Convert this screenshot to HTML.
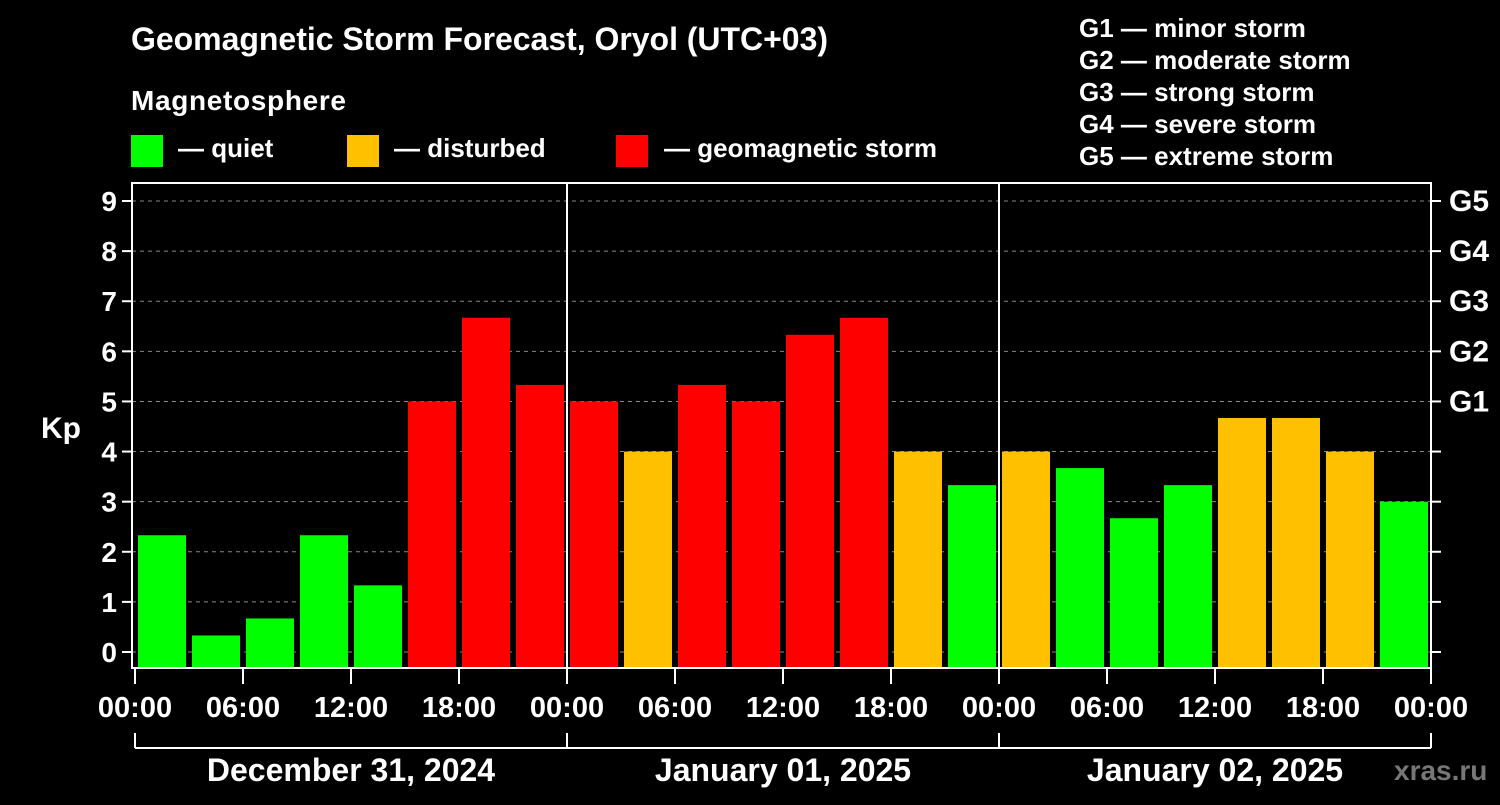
<!DOCTYPE html>
<html><head><meta charset="utf-8"><style>
body{margin:0;background:#000;width:1500px;height:800px;overflow:hidden}
svg text{font-family:"Liberation Sans",sans-serif;font-weight:bold;fill:#fff}
</style></head><body>
<svg id="c" width="1500" height="800">
<rect width="1500" height="800" fill="#000"/>
<text x="131" y="50" font-size="32" textLength="697">Geomagnetic Storm Forecast, Oryol (UTC+03)</text>
<text x="131" y="110" font-size="28" textLength="215">Magnetosphere</text>
<rect x="131" y="135" width="32" height="32" fill="#00ff00"/>
<text x="178" y="157" font-size="26">— quiet</text>
<rect x="347" y="135" width="32" height="32" fill="#ffc000"/>
<text x="394" y="157" font-size="26">— disturbed</text>
<rect x="616" y="135" width="32" height="32" fill="#ff0000"/>
<text x="664" y="157" font-size="26">— geomagnetic storm</text>
<g font-size="26">
<text x="1079" y="37">G1 — minor storm</text>
<text x="1079" y="69">G2 — moderate storm</text>
<text x="1079" y="101">G3 — strong storm</text>
<text x="1079" y="133">G4 — severe storm</text>
<text x="1079" y="165">G5 — extreme storm</text>
</g>
<text x="41" y="438" font-size="30">Kp</text>
<text x="1394" y="780" font-size="28" style="fill:#777">xras.ru</text>
<g id="plot"></g>
</svg>
<script>
const kpValues=[2.33,0.33,0.67,2.33,1.33,5,6.67,5.33,5,4,5.33,5,6.33,6.67,4,3.33,4,3.67,2.67,3.33,4.67,4.67,4,3];
const kpTicks=[0,1,2,3,4,5,6,7,8,9];
const gLabels=["G1","G2","G3","G4","G5"];
const timeLabels=["00:00","06:00","12:00","18:00","00:00","06:00","12:00","18:00","00:00","06:00","12:00","18:00","00:00"];
const dayLabels=["December 31, 2024","January 01, 2025","January 02, 2025"];
const NS="http://www.w3.org/2000/svg",g=document.getElementById('plot');
const X0=135,X1=1431,Y0=652,PU=50.11,TOP=183,BOT=668;
const xh=h=>X0+(X1-X0)*h/72, yk=k=>Y0-k*PU;
function mk(t,a,p){const e=document.createElementNS(NS,t);for(const k in a)e.setAttribute(k,a[k]);(p||g).appendChild(e);return e;}
kpTicks.forEach(k=>{
 const gl=mk('line',{x1:132,x2:1431,y1:yk(k),y2:yk(k),stroke:'#888','stroke-dasharray':'4,4','stroke-width':1});
 
 
 mk('line',{x1:122,x2:132,y1:yk(k),y2:yk(k),stroke:'#fff','stroke-width':2});
 mk('line',{x1:1431,x2:1441,y1:yk(k),y2:yk(k),stroke:'#fff','stroke-width':2});
 const t=mk('text',{x:117,y:yk(k)+10,'font-size':28,'text-anchor':'end'});t.textContent=k;
 
 
});
gLabels.forEach((s,i)=>{const t=mk('text',{x:1449,y:yk(5+i)+10,'font-size':30});t.textContent=s;
 
 });
kpValues.forEach((v,i)=>{
 const c=v>=5?'#ff0000':v>=4?'#ffc000':'#00ff00';
 const r=mk('rect',{x:xh(i*3)+3,y:yk(v),width:xh(3)-X0-6,height:BOT-yk(v),fill:c});
 
 
});
[1,2].forEach(d=>mk('line',{x1:xh(d*24),x2:xh(d*24),y1:TOP,y2:BOT,stroke:'#fff','stroke-width':2}));
mk('rect',{x:132,y:TOP,width:1431-132,height:BOT-TOP,fill:'none',stroke:'#fff','stroke-width':2});
timeLabels.forEach((s,i)=>{const x=xh(i*6);
 mk('line',{x1:x,x2:x,y1:BOT,y2:684,stroke:'#fff','stroke-width':2});
 const t=mk('text',{x:x,y:717,'font-size':29,'text-anchor':'middle'});t.textContent=s;
 
 });
mk('line',{x1:xh(0),x2:xh(72),y1:748,y2:748,stroke:'#fff','stroke-width':2});
[0,1,2,3].forEach(d=>mk('line',{x1:xh(d*24),x2:xh(d*24),y1:733,y2:748,stroke:'#fff','stroke-width':2}));
dayLabels.forEach((s,i)=>{const t=mk('text',{x:xh(i*24+12),y:781,'font-size':32,'text-anchor':'middle'});t.textContent=s;
 
 });
</script>
</body></html>
